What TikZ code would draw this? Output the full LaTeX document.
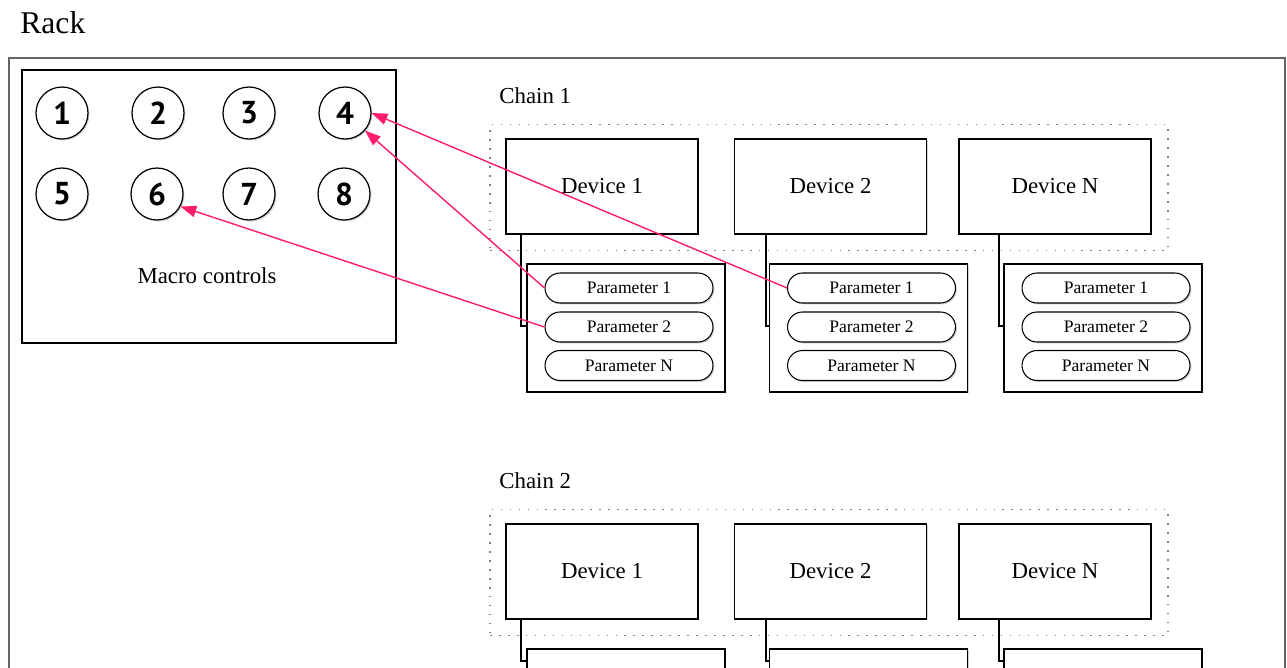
\documentclass[tikz,border=0pt]{standalone}
\usepackage{fontspec}
\setmainfont{Liberation Serif}
\newfontfamily\knobfont{PT Sans}
\usetikzlibrary{arrows.meta,shadows}

\definecolor{linkpink}{RGB}{255,30,110}

\tikzset{
  softshadow/.style={drop shadow={shadow xshift=0.8pt,shadow yshift=-0.8pt,opacity=0.35}},
  panel/.style={draw, line width=0.7pt, fill=white, softshadow},
  device/.style={panel, minimum width=3.84cm, minimum height=1.9cm, font=\fontsize{13}{15}\selectfont},
  parambox/.style={panel, minimum width=3.96cm, minimum height=2.56cm},
  param/.style={draw, line width=0.6pt, fill=white, softshadow, rounded corners=0.3cm,
    minimum width=3.36cm, minimum height=0.6cm, inner sep=0pt, font=\fontsize{10}{12}\selectfont},
  knob/.style={circle, draw, line width=0.7pt, fill=white, softshadow, minimum size=1.04cm,
    inner sep=0pt, font=\knobfont\bfseries\fontsize{18}{18}\selectfont},
  chainbox/.style={draw=gray, line width=0.9pt, dash pattern=on 0.9pt off 4.2pt,
    minimum width=13.56cm, minimum height=2.52cm},
  link/.style={linkpink, line width=0.8pt, -{Triangle[length=9pt,width=6.5pt]}},
  wire/.style={line width=0.6pt}
}

\begin{document}
\begin{tikzpicture}[x=0.02cm, y=-0.02cm]
  \useasboundingbox (0,0) rectangle (1287,667);
  \clip (0,0) rectangle (1287,667);

  % Rack frame and title
  \draw[gray!80!black, line width=0.6pt] (9,700) -- (9,58) -- (1285,58) -- (1285,700);
  \node[anchor=base west, inner sep=0pt, font=\fontsize{18}{20}\selectfont] (racklbl) at (20,33) {Rack};

  % Macro controls
  \node[panel, minimum width=7.48cm, minimum height=5.46cm] (macro) at (209,206.5) {};
  \node[font=\fontsize{13}{15}\selectfont] (macrolbl) at (207,276) {Macro controls};
  \foreach \n/\x/\y in {1/62/113, 2/158/113, 3/249/113, 4/345/113,
                        5/62/194, 6/157/194, 7/249/194, 8/344/194}
    \node[knob] (k\n) at (\x,\y) {\n};

  % Chains of devices
  \foreach \c/\off/\hy in {1/0/326, 2/385/661}{
    \node[anchor=west, inner sep=0pt, font=\fontsize{13}{15}\selectfont] (chain\c) at (499,96+\off) {Chain \c};
    \node[chainbox] (chainbox\c) at (829,187.5+\off) {};
    \foreach \d/\x/\px/\wx/\lbl in {1/602/626/521/1, 2/830.5/868.5/766/2, 3/1055/1103/999/N}{
      \node[parambox] (pbox\c\d) at (\px,328+\off) {};
      \node[device] (dev\c\d) at (\x,186.5+\off) {Device \lbl};
      \draw[wire] (dev\c\d.south -| \wx,0) -- (\wx,\hy) -- (pbox\c\d.west |- 0,\hy);
      \ifnum\c=1
        \foreach \k/\dy in {1/-40, 2/-1, N/37.5}
          \node[param] (par\d\k) at (\px+3,328+\dy) {Parameter \k};
      \fi
    }
  }

  % Parameter to macro links
  \draw[link] (par11.west) -- (k4);
  \draw[link] (par21.west) -- (k4.east);
  \draw[link] (par12.west) -- (k6.-28);
\end{tikzpicture}
\end{document}
